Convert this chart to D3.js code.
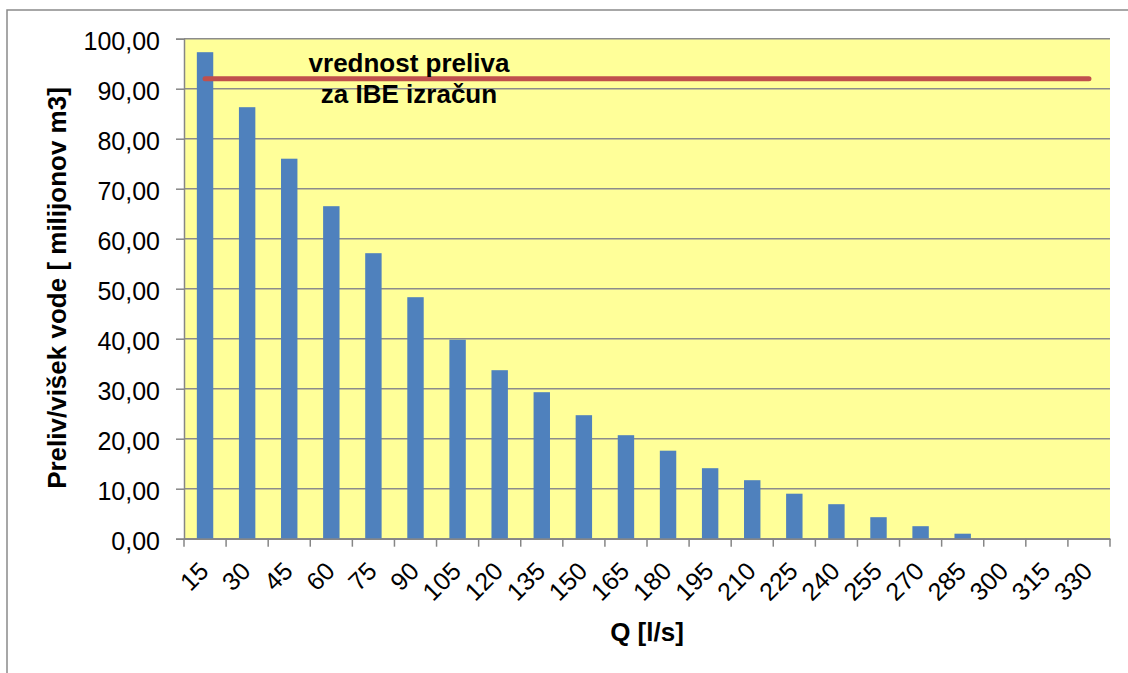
<!DOCTYPE html>
<html>
<head>
<meta charset="utf-8">
<script src="https://cdn.jsdelivr.net/npm/d3@7"></script>
<style>
  body { margin: 0; background: #fff; }
  svg { display: block; font-family: "Liberation Sans", Arial, sans-serif; }
</style>
</head>
<body>
<script>
var categories = ["15","30","45","60","75","90","105","120","135","150","165","180","195","210","225","240","255","270","285","300","315","330"];
var preliv = [97.3, 86.3, 76.0, 66.5, 57.1, 48.3, 39.8, 33.7, 29.3, 24.7, 20.7, 17.6, 14.1, 11.7, 9.0, 6.9, 4.3, 2.5, 1.0, 0, 0, 0];
var ibeLine = [92, 92, 92, 92, 92, 92, 92, 92, 92, 92, 92, 92, 92, 92, 92, 92, 92, 92, 92, 92, 92, 92];
var yTicks = [0, 10, 20, 30, 40, 50, 60, 70, 80, 90, 100];

function init(){
    var width = 1128, height = 673;
    var left = 184, right = 1110, top = 38.7, bottom = 538.7;

    var svg = d3.select("body").append("svg")
        .attr("width", width)
        .attr("height", height);

    // outer frame (cut off at right and bottom)
    svg.append("path")
        .attr("d", "M7," + height + " V10 H" + width)
        .attr("fill", "none")
        .attr("stroke", "#8a8a8a")
        .attr("stroke-width", 1.5);

    var x = d3.scaleBand()
        .domain(categories)
        .range([left, right])
        .paddingInner(0.61)
        .paddingOuter(0.305);

    var y = d3.scaleLinear()
        .domain([0, 100])
        .range([bottom, top]);

    // plot area
    svg.append("rect")
        .attr("x", left).attr("y", top)
        .attr("width", right - left).attr("height", bottom - top)
        .attr("fill", "#FFFF99");

    // gridlines
    svg.selectAll(".grid")
        .data(yTicks)
        .enter()
        .append("line")
        .attr("x1", left).attr("x2", right)
        .attr("y1", function(d) { return y(d); })
        .attr("y2", function(d) { return y(d); })
        .attr("stroke", "#8c8c8c")
        .attr("stroke-width", 1.5);

    // bars
    svg.selectAll(".bar")
        .data(preliv)
        .enter()
        .append("rect")
        .attr("x", function(d, i) { return x(categories[i]); })
        .attr("y", function(d) { return y(d); })
        .attr("width", x.bandwidth())
        .attr("height", function(d) { return y(0) - y(d); })
        .attr("fill", "#4F81BD");

    // y axis
    var yAxis = d3.axisLeft(y)
        .tickValues(yTicks)
        .tickSize(8)
        .tickPadding(16)
        .tickFormat(function(d) { return d3.format(".2f")(d).replace(".", ","); });

    var gy = svg.append("g")
        .attr("transform", "translate(" + left + ",0)")
        .call(yAxis);
    gy.select(".domain").attr("stroke", "#868686").attr("stroke-width", 1.5);
    gy.selectAll(".tick line").attr("stroke", "#868686").attr("stroke-width", 1.5);
    gy.selectAll(".tick text")
        .attr("font-size", "25px")
        .attr("font-family", "Liberation Sans, Arial, sans-serif")
        .attr("fill", "#000")
        .attr("dy", "0.42em");

    // x axis
    var xAxis = d3.axisBottom(x).tickSize(0).tickSizeOuter(0);
    var gx = svg.append("g")
        .attr("transform", "translate(0," + bottom + ")")
        .call(xAxis);
    gx.select(".domain").attr("stroke", "#868686").attr("stroke-width", 1.5);
    gx.selectAll(".tick text")
        .attr("font-size", "25px")
        .attr("font-family", "Liberation Sans, Arial, sans-serif")
        .attr("fill", "#000")
        .attr("text-anchor", "end")
        .attr("y", 0)
        .attr("dy", 0)
        .attr("transform", "translate(5,34) rotate(-45)");

    // x tick marks at category boundaries
    gx.selectAll(".bound")
        .data(d3.range(categories.length + 1))
        .enter()
        .append("line")
        .attr("x1", function(i) { return x.range()[0] + i * x.step(); })
        .attr("x2", function(i) { return x.range()[0] + i * x.step(); })
        .attr("y1", 0).attr("y2", 8)
        .attr("stroke", "#868686")
        .attr("stroke-width", 1.5);

    // red line
    var line = d3.line()
        .x(function(d, i) { return x(categories[i]) + x.bandwidth() / 2; })
        .y(function(d) { return y(d); });

    svg.append("path")
        .datum(ibeLine)
        .attr("d", line)
        .attr("fill", "none")
        .attr("stroke", "#C0504D")
        .attr("stroke-width", 5)
        .attr("stroke-linecap", "round");

    // annotation
    var note = svg.append("text")
        .attr("text-anchor", "middle")
        .attr("font-size", "26px")
        .attr("font-weight", "bold")
        .attr("fill", "#000");
    note.append("tspan").attr("x", 409).attr("y", 72).text("vrednost preliva");
    note.append("tspan").attr("x", 409).attr("y", 103).text("za IBE izračun");

    // axis titles
    svg.append("text")
        .attr("transform", "translate(66,288) rotate(-90)")
        .attr("text-anchor", "middle")
        .attr("font-size", "26px")
        .attr("font-weight", "bold")
        .text("Preliv/višek vode [ milijonov m3]");

    svg.append("text")
        .attr("x", 647)
        .attr("y", 641)
        .attr("text-anchor", "middle")
        .attr("font-size", "26px")
        .attr("font-weight", "bold")
        .text("Q [l/s]");
}

window.onload = init;
</script>
</body>
</html>
